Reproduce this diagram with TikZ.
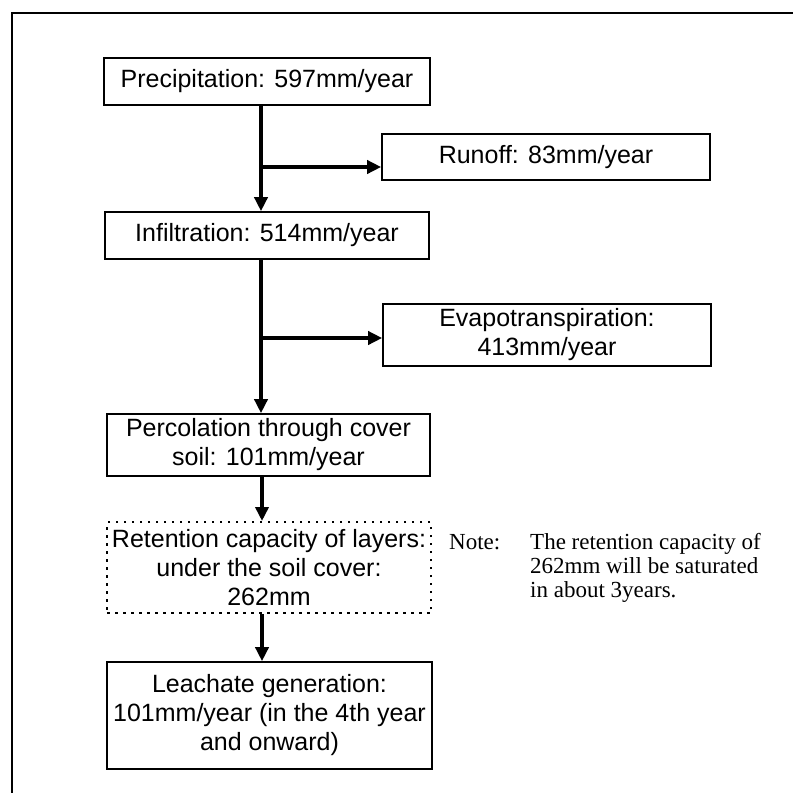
\documentclass[tikz,border=0pt]{standalone}
\usepackage{fontspec}
\setmainfont{Liberation Sans}
\newfontfamily\notefont{Liberation Serif}
\usetikzlibrary{arrows.meta}
\begin{document}
\begin{tikzpicture}[x=1pt,y=-1pt,
  boxn/.style={draw, line width=1.6pt, inner sep=0pt, align=center, font=\fontsize{25}{29}\selectfont},
  dotbox/.style={boxn, dash pattern=on 2.5pt off 5.5pt, line width=2pt},
  flow/.style={line width=4pt, -{Triangle[length=14pt,width=13pt]}},
  notetext/.style={inner sep=0pt, anchor=base west, align=left, font=\notefont\fontsize{23}{24}\selectfont},
  frame/.style={line width=2pt},
  ]
\useasboundingbox (0,0) rectangle (793,793);
% frame (top and left edges only)
\coordinate (fbl) at (12,793);
\coordinate (ftl) at (12,13);
\coordinate (ftr) at (793,13);
\draw[frame] (fbl) -- (ftl) -- (ftr);

% boxes
\node[boxn, minimum width=326pt, minimum height=47pt] (precip) at (267,81.5) {Precipitation: 597mm/year};
\node[boxn, minimum width=328pt, minimum height=46pt] (runoff) at (546,157) {Runoff: 83mm/year};
\node[boxn, minimum width=324pt, minimum height=47pt] (infil) at (267,235.5) {Infiltration: 514mm/year};
\node[boxn, minimum width=328pt, minimum height=62pt] (evap) at (547,335) {Evapotranspiration:\\413mm/year};
\node[boxn, minimum width=323pt, minimum height=62pt] (perc) at (268.5,445) {Percolation through cover\\soil: 101mm/year};
\node[dotbox, minimum width=324pt, minimum height=91pt] (ret) at (269,567.5) {Retention capacity of layers:\\under the soil cover:\\262mm};
\node[boxn, minimum width=325pt, minimum height=107pt] (leach) at (269.5,715.5) {Leachate generation:\\101mm/year (in the 4th year\\and onward)};

% note (base anchor = baseline of the last line)
\node[notetext] (notelbl) at (449,549) {Note:};
\node[notetext] (note) at (530,597) {The retention capacity of\\262mm will be saturated\\in about 3years.};

% junction points on the trunk
\coordinate (j1) at (261,167);
\coordinate (j2) at (261,338);
\coordinate (j3) at (262,500);

% connectors
\draw[flow] (precip.south -| j1) -- (infil.north -| j1);
\draw[flow] (j1) -- (j1 -| runoff.west);
\draw[flow] (infil.south -| j2) -- (perc.north -| j2);
\draw[flow] (j2) -- (j2 -| evap.west);
\draw[flow] (perc.south -| j3) -- (ret.north -| j3);
\draw[flow] (ret.south -| j3) -- (leach.north -| j3);
\end{tikzpicture}
\end{document}
